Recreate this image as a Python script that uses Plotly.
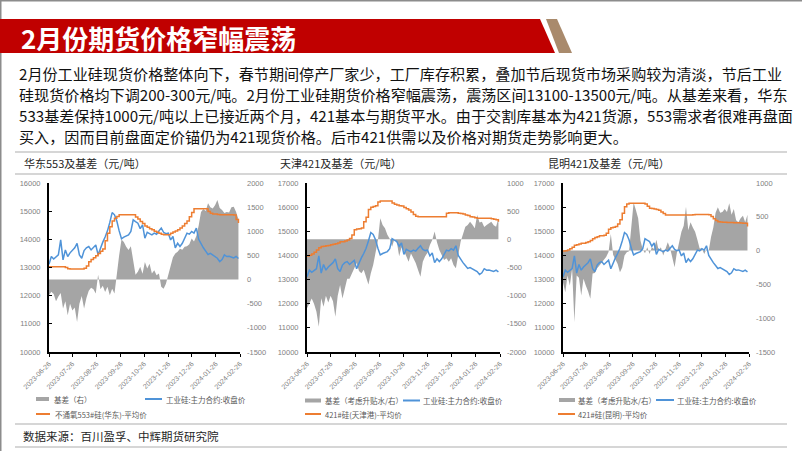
import pandas as pd
import plotly.graph_objects as go

W, H = 802, 451

# ---------------- data ----------------
dates = pd.date_range("2023-06-26", periods=82, freq="3D")
month_ticks = ["2023-06-26", "2023-07-26", "2023-08-26", "2023-09-26", "2023-10-26",
               "2023-11-26", "2023-12-26", "2024-01-26", "2024-02-26"]

futures_close = [13115, 13390, 13300, 13380, 13450, 13980, 13270, 13625, 13390, 13520,
                 13600, 13700, 13860, 13450, 13330, 13600, 13700, 13745, 13625, 13700,
                 13800, 13450, 13700, 13900, 14080, 14300, 14600, 14950, 14870, 14650,
                 14300, 14020, 14080, 14120, 14160, 14280, 14690, 14630, 14575, 14380,
                 14515, 14040, 14250, 14200, 14160, 14220, 14180, 14300, 14400, 14250,
                 14200, 14220, 13980, 14100, 13700, 13860, 13745, 13860, 14040, 14220,
                 14185, 14280, 14220, 14400, 14000, 13820, 13700, 13580, 13460, 13500,
                 13450, 13390, 13330, 13210, 13280, 13450, 13390, 13400, 13380, 13340,
                 13390, 13320]

spot_553_east = [13030, 13030, 13030, 13030, 13030, 13030, 13030, 13000, 12960, 12950,
                 12950, 12950, 12950, 12950, 12950, 12970, 13050, 13200, 13280, 13350,
                 13420, 13500, 13580, 13660, 13950, 14220, 14450, 14650, 14750, 14810,
                 14870, 14870, 14870, 14870, 14870, 14870, 14870, 14790, 14720, 14630,
                 14560, 14470, 14430, 14380, 14340, 14290, 14250, 14220, 14180, 14160,
                 14160, 14160, 14220, 14260, 14300, 14340, 14400, 14470, 14560, 14650,
                 14800, 14950, 15085, 15085, 15085, 15085, 15085, 15085, 14990, 14930,
                 14900, 14900, 14880, 14870, 14870, 14870, 14870, 14870, 14870, 14860,
                 14700, 14580]

basis_553_east = [-325, -250, -300, -450, -350, -280, -600, -450, -740, -500,
                  -640, -580, -880, -500, -340, -600, -380, -230, -170, -200,
                  -290, 100, -200, -130, -255, -150, -325, -190, -290, 160,
                  505, 830, 780, 680, 610, 690, 380, 100, 160, 265,
                  120, 365, 230, 330, 125, 195, 90, 125, -150, -190,
                  -85, 100, 300, 460, 540, 575, 640, 620, 680, 690,
                  730, 850, 790, 900, 1120, 1400, 1460, 1420, 1580, 1500,
                  1470, 1540, 1650, 1480, 1440, 1380, 1400, 1390, 1500, 1510,
                  1400, 1250]

spot_421_tianjin = [13975, 14010, 14060, 14130, 14225, 14320, 14370, 14385, 14400, 14410,
                    14440, 14460, 14480, 14510, 14570, 14570, 14600, 14640, 14700, 14850,
                    15060, 15090, 15110, 15140, 15400, 15580, 15900, 16000, 16030, 16060,
                    16210, 16250, 16250, 16250, 16250, 16250, 16170, 16120, 16090, 16060,
                    16045, 15990, 15930, 15880, 15800, 15700, 15620, 15605, 15605, 15605,
                    15605, 15605, 15605, 15605, 15605, 15605, 15605, 15605, 15605, 15750,
                    15770, 15770, 15770, 15770, 15750, 15740, 15720, 15675, 15650, 15605,
                    15590, 15565, 15535, 15535, 15535, 15535, 15535, 15535, 15520, 15500,
                    15480, 15400]

basis_421_tianjin = [-1225, -1150, -1050, -1150, -1285, -1550, -1047, -1195, -1000, -1120,
                     -1000, -1100, -1373, -1000, -810, -1050, -900, -700, -700, -600,
                     -500, -420, -560, -600, -540, -690, -800, -600, -455, -240,
                     -20, 373, 254, 195, 80, 10, -130, 10, -41, -300,
                     -140, -200, -290, -396, -250, -337, -420, -545, -663, -396,
                     -300, -240, -100, -10, 140, -50, -190, -278, -367, -337,
                     -396, -337, -455, -515, -240, -41, 90, 225, 254, 313,
                     260, 195, 432, 300, 313, 220, 254, 284, 310, 250,
                     225, 373]

spot_421_kunming = [14180, 14190, 14220, 14280, 14340, 14420, 14440, 14470, 14500, 14500,
                    14540, 14570, 14620, 14690, 14740, 14775, 14810, 14820, 14840, 14915,
                    15080, 15150, 15170, 15200, 15300, 15480, 15750, 16020, 16130, 16160,
                    16160, 16160, 16160, 16160, 16160, 16160, 16130, 16040, 15950, 15940,
                    15920, 15900, 15870, 15800, 15740, 15670, 15670, 15670, 15670, 15670,
                    15670, 15670, 15670, 15670, 15670, 15670, 15670, 15680, 15700, 15700,
                    15700, 15700, 15700, 15700, 15680, 15610, 15520, 15450, 15400, 15380,
                    15370, 15370, 15360, 15360, 15360, 15355, 15355, 15355, 15340, 15330,
                    15330, 15200]

basis_421_kunming = [-467, -615, -370, -517, -270, -1058, -370, -400, -664, -418,
                     -517, -600, -713, -340, -330, -260, -221, -172, -130, -90,
                     -20, 246, -60, -123, -200, -320, -250, -74, -25, -10,
                     418, 713, 600, 480, 150, 20, -40, 49, -49, 49,
                     25, 160, 0, 49, -74, 40, 123, 40, -120, -246,
                     -30, 120, 280, 369, 650, 300, 420, 340, 280, 160,
                     30, 30, -50, 20, 0, 200, 340, 560, 640, 560,
                     570, 615, 570, 700, 530, 615, 450, 420, 480, 517,
                     420, 530]

chart_titles = ["华东553及基差（元/吨）", "天津421及基差（元/吨）", "昆明421及基差（元/吨）"]
basis_names = ["基差（右）", "基差（考虑升贴水/右）", "基差（考虑升贴水/右）"]
futures_name = "工业硅:主力合约:收盘价"
spot_names = ["不通氧553#硅(华东)-平均价", "421#硅(天津港)-平均价", "421#硅(昆明)-平均价"]

left_ranges = [(10000, 16000), (10000, 17000), (10000, 17000)]
right_ticks = [[2000, 1500, 1000, 500, 0, -500, -1000, -1500],
               [1000, 500, 0, -500, -1000, -1500, -2000],
               [1000, 500, 0, -500, -1000, -1500]]
right_ticktext = [["2000", "1500", "1000", "500", "0", "-500", "-1000", "-1500"],
                  ["1000", "500", "0", "-500", "-1000", "-1500", "-2000"],
                  ["1000", "500", "0", "-500", "-1000", "-1500"]]

paragraph = [
    "2月份工业硅现货价格整体向下，春节期间停产厂家少，工厂库存积累，叠加节后现货市场采购较为清淡，节后工业",
    "硅现货价格均下调200-300元/吨。2月份工业硅期货价格窄幅震荡，震荡区间13100-13500元/吨。从基差来看，华东",
    "533基差保持1000元/吨以上已接近两个月，421基本与期货平水。由于交割库基本为421货源，553需求者很难再盘面",
    "买入，因而目前盘面定价锚仍为421现货价格。后市421供需以及价格对期货走势影响更大。",
]
page_title = "2月份期货价格窄幅震荡"
source_text = "数据来源：百川盈孚、中辉期货研究院"

# ---------------- styling helpers ----------------
def px(x):
    return x / W


def py(y):
    return 1 - y / H


CJK = "Noto Sans CJK SC"
NUM = "Liberation Sans"
GRAY_TXT = "#7f7f7f"
BLUE = "#4F93D8"
ORANGE = "#ED7D31"
AREA = "#A5A5A5"

x_dom_px = [(49, 240), (307, 500), (563, 749)]
y_dom = [py(352), py(183)]

fig = go.Figure()

basis_sets = [basis_553_east, basis_421_tianjin, basis_421_kunming]
spot_sets = [spot_553_east, spot_421_tianjin, spot_421_kunming]

layout_axes = {}
for c in range(3):
    xn = "x" if c == 0 else f"x{c+1}"
    yb = f"y{2*c+1}" if c > 0 else "y"
    yp = f"y{2*c+2}"
    fig.add_trace(go.Scatter(x=dates, y=basis_sets[c], mode="lines", fill="tozeroy",
                             fillcolor=AREA, line=dict(width=0, color=AREA),
                             xaxis=xn, yaxis=yb, name=basis_names[c]))
    fig.add_trace(go.Scatter(x=dates, y=futures_close, mode="lines",
                             line=dict(width=1.5, color=BLUE),
                             xaxis=xn, yaxis=yp, name=futures_name))
    fig.add_trace(go.Scatter(x=dates, y=spot_sets[c], mode="lines",
                             line=dict(width=1.5, color=ORANGE, shape="hv"),
                             xaxis=xn, yaxis=yp, name=spot_names[c]))

    xkey = "xaxis" if c == 0 else f"xaxis{c+1}"
    ybkey = "yaxis" if c == 0 else f"yaxis{2*c+1}"
    ypkey = f"yaxis{2*c+2}"
    x0, x1 = x_dom_px[c]
    layout_axes[xkey] = dict(domain=[px(x0), px(x1)], anchor=yb, type="date",
                             range=["2023-06-26", "2024-02-26"], tickvals=month_ticks,
                             tickformat="%Y-%m-%d", tickangle=-45, automargin=False,
                             tickfont=dict(family=NUM, size=7, color=GRAY_TXT),
                             showline=True, linecolor="black", linewidth=2,
                             ticks="outside", ticklen=3, tickcolor="black",
                             showgrid=False, zeroline=False)
    layout_axes[ybkey] = dict(domain=y_dom, anchor=xn, side="right", automargin=False,
                              range=[right_ticks[c][-1], right_ticks[c][0]],
                              tickvals=right_ticks[c], ticktext=right_ticktext[c],
                              tickfont=dict(family=NUM, size=7.5, color=GRAY_TXT),
                              showgrid=False, zeroline=False, showline=False,
                              ticks="", ticklabelstandoff=6)
    layout_axes[ypkey] = dict(overlaying=yb, anchor=xn, side="left", automargin=False,
                              range=list(left_ranges[c]), dtick=1000, tickformat="d",
                              tickfont=dict(family=NUM, size=7.5, color=GRAY_TXT),
                              showgrid=False, zeroline=False, showline=True,
                              linecolor="black", linewidth=2,
                              ticks="inside", ticklen=3, tickcolor="black",
                              ticklabelstandoff=5)

shapes = []
annotations = []

# slide border (left / top)
shapes.append(dict(type="line", xref="paper", yref="paper", x0=px(0.75), x1=px(0.75), y0=0, y1=1,
                   line=dict(color="#8c8c8c", width=1.5)))
shapes.append(dict(type="line", xref="paper", yref="paper", x0=0, x1=1, y0=py(0.75), y1=py(0.75),
                   line=dict(color="#8c8c8c", width=1.5)))

# title banner
shapes.append(dict(type="path", xref="paper", yref="paper",
                   path=f"M 0,{py(19)} L {px(540)},{py(19)} L {px(555)},{py(53)} L 0,{py(53)} Z",
                   fillcolor="#C00000", line=dict(width=0)))
shapes.append(dict(type="path", xref="paper", yref="paper",
                   path=f"M {px(546)},{py(19)} L {px(557)},{py(19)} L {px(572)},{py(53)} L {px(559)},{py(53)} Z",
                   fillcolor="#A98A6C", line=dict(width=0)))
annotations.append(dict(text=f"<b>{page_title}</b>", xref="paper", yref="paper",
                        x=px(19), y=py(37), xanchor="left", yanchor="middle", showarrow=False,
                        font=dict(family=CJK, size=26, color="white")))

# paragraph
for i, line in enumerate(paragraph):
    annotations.append(dict(text=line, xref="paper", yref="paper", x=px(17), y=py(73 + 21 * i),
                            xanchor="left", yanchor="middle", showarrow=False,
                            font=dict(family=CJK, size=15.1, color="#111111")))

# separator lines
for yy in (152, 174, 424, 447):
    shapes.append(dict(type="line", xref="paper", yref="paper", x0=px(15), x1=px(787),
                       y0=py(yy), y1=py(yy), line=dict(color="#c8c8c8", width=1.5)))

# chart titles
for c, tx in enumerate((22, 278, 546)):
    annotations.append(dict(text=chart_titles[c], xref="paper", yref="paper", x=px(tx), y=py(163),
                            xanchor="left", yanchor="middle", showarrow=False,
                            font=dict(family=CJK, size=11, color="#262626")))

# legends (drawn manually)
leg_font = dict(family=CJK, size=7.5, color="#595959")
leg_cfg = [
    dict(gx=(36, 49), gy=399, gt=52, bx=(145, 162), bt=164, ox=(36, 50), oy=414, ot=53),
    dict(gx=(305, 321), gy=400.5, gt=323, bx=(403, 420), bt=421, ox=(305, 321), oy=414, ot=323),
    dict(gx=(559, 575), gy=400, gt=576, bx=(656, 674), bt=675, ox=(558, 575), oy=414, ot=576),
]
for c, L in enumerate(leg_cfg):
    shapes.append(dict(type="rect", xref="paper", yref="paper", x0=px(L["gx"][0]), x1=px(L["gx"][1]),
                       y0=py(L["gy"] + 2), y1=py(L["gy"] - 2), fillcolor=AREA, line=dict(width=0)))
    annotations.append(dict(text=basis_names[c], xref="paper", yref="paper", x=px(L["gt"]), y=py(L["gy"]),
                            xanchor="left", yanchor="middle", showarrow=False, font=leg_font))
    shapes.append(dict(type="line", xref="paper", yref="paper", x0=px(L["bx"][0]), x1=px(L["bx"][1]),
                       y0=py(L["gy"]), y1=py(L["gy"]), line=dict(color=BLUE, width=2)))
    annotations.append(dict(text=futures_name, xref="paper", yref="paper", x=px(L["bt"]), y=py(L["gy"]),
                            xanchor="left", yanchor="middle", showarrow=False, font=leg_font))
    shapes.append(dict(type="line", xref="paper", yref="paper", x0=px(L["ox"][0]), x1=px(L["ox"][1]),
                       y0=py(L["oy"]), y1=py(L["oy"]), line=dict(color=ORANGE, width=2)))
    annotations.append(dict(text=spot_names[c], xref="paper", yref="paper", x=px(L["ot"]), y=py(L["oy"]),
                            xanchor="left", yanchor="middle", showarrow=False, font=leg_font))

# source
annotations.append(dict(text=source_text, xref="paper", yref="paper", x=px(21), y=py(435.5),
                        xanchor="left", yanchor="middle", showarrow=False,
                        font=dict(family=CJK, size=11.5, color="#262626")))

fig.update_layout(width=W, height=H, margin=dict(l=0, r=0, t=0, b=0, autoexpand=False),
                  paper_bgcolor="white", plot_bgcolor="rgba(0,0,0,0)",
                  showlegend=False, shapes=shapes, annotations=annotations,
                  **layout_axes)

fig.write_html("out.html", post_script="document.body.style.margin='0';document.body.style.padding='0';")
